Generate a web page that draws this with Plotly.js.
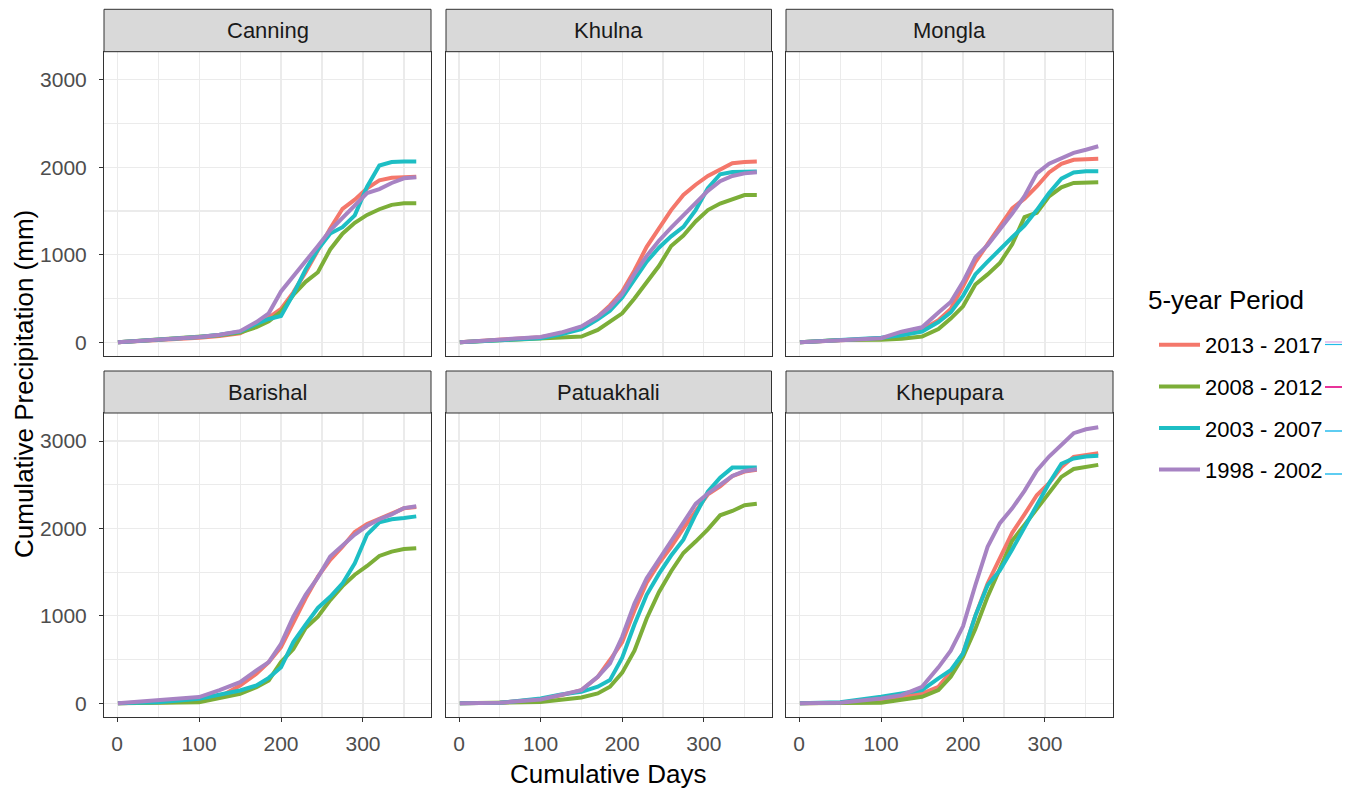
<!DOCTYPE html>
<html>
<head>
<meta charset="utf-8">
<script src="https://cdn.plot.ly/plotly-3.0.1.min.js"></script>
<style>
html,body{margin:0;padding:0;background:#fff;}
#chart{width:1356px;height:790px;}
</style>
</head>
<body>
<div id="chart"></div>
<script>
// ---- data ----
const days = [1, 50, 100, 125, 150, 170, 185, 200, 215, 230, 245, 260, 275, 290, 305, 320, 335, 350, 365];

const stations = ["Canning", "Khulna", "Mongla", "Barishal", "Patuakhali", "Khepupara"];
const periods = ["2013 - 2017", "2008 - 2012", "2003 - 2007", "1998 - 2002"];
const periodColors = ["#F4776B", "#7CAE38", "#1DBEC4", "#A783C3"];

const canning_2013_2017 = [0, 20, 50, 70, 100, 200, 280, 380, 570, 800, 1050, 1300, 1525, 1630, 1760, 1850, 1880, 1890, 1890];
const canning_2008_2012 = [0, 30, 60, 80, 110, 172, 240, 350, 540, 690, 800, 1060, 1240, 1365, 1455, 1520, 1570, 1587, 1587];
const canning_2003_2007 = [0, 25, 60, 85, 120, 210, 265, 300, 550, 830, 1060, 1243, 1315, 1450, 1778, 2020, 2060, 2065, 2065];
const canning_1998_2002 = [0, 25, 60, 85, 126, 230, 330, 580, 750, 930, 1100, 1280, 1425, 1565, 1705, 1750, 1820, 1874, 1885];

const khulna_2013_2017 = [0, 25, 57, 100, 172, 290, 420, 580, 820, 1090, 1310, 1510, 1683, 1800, 1900, 1975, 2045, 2060, 2065];
const khulna_2008_2012 = [0, 20, 40, 55, 65, 140, 230, 330, 500, 680, 870, 1100, 1220, 1380, 1510, 1585, 1630, 1682, 1682];
const khulna_2003_2007 = [0, 20, 45, 90, 150, 260, 360, 510, 710, 920, 1080, 1210, 1319, 1510, 1760, 1920, 1945, 1950, 1950];
const khulna_1998_2002 = [0, 25, 60, 110, 180, 290, 400, 550, 780, 985, 1160, 1310, 1453, 1600, 1730, 1840, 1900, 1930, 1943];

const mongla_2013_2017 = [0, 25, 45, 80, 141, 250, 380, 640, 915, 1120, 1320, 1530, 1640, 1780, 1940, 2040, 2085, 2095, 2096];
const mongla_2008_2012 = [0, 25, 27, 40, 65, 150, 270, 410, 660, 775, 905, 1120, 1430, 1480, 1668, 1770, 1821, 1828, 1828];
const mongla_2003_2007 = [0, 25, 50, 80, 122, 230, 340, 530, 775, 920, 1065, 1200, 1333, 1510, 1706, 1870, 1940, 1954, 1954];
const mongla_1998_2002 = [0, 25, 46, 120, 170, 340, 460, 690, 970, 1110, 1285, 1470, 1670, 1930, 2040, 2100, 2165, 2200, 2240];

const barishal_2013_2017 = [0, 10, 20, 70, 203, 337, 470, 640, 930, 1200, 1450, 1640, 1790, 1960, 2050, 2110, 2180, 2230, 2245];
const barishal_2008_2012 = [0, 5, 11, 60, 107, 184, 260, 470, 620, 860, 990, 1180, 1340, 1470, 1570, 1685, 1735, 1765, 1774];
const barishal_2003_2007 = [0, 10, 50, 100, 146, 203, 290, 410, 700, 900, 1090, 1218, 1370, 1600, 1930, 2070, 2105, 2119, 2138];
const barishal_1998_2002 = [0, 30, 70, 150, 241, 375, 470, 680, 990, 1240, 1440, 1678, 1810, 1930, 2030, 2105, 2160, 2233, 2253];

const patuakhali_2013_2017 = [0, 5, 45, 90, 150, 300, 494, 700, 1060, 1380, 1600, 1790, 2000, 2200, 2390, 2480, 2600, 2650, 2670];
const patuakhali_2008_2012 = [0, 3, 15, 40, 65, 111, 188, 350, 600, 970, 1270, 1510, 1719, 1850, 1990, 2150, 2200, 2265, 2282];
const patuakhali_2003_2007 = [0, 5, 54, 100, 130, 188, 264, 520, 900, 1240, 1480, 1690, 1872, 2160, 2420, 2580, 2696, 2696, 2696];
const patuakhali_1998_2002 = [0, 5, 42, 92, 150, 302, 456, 760, 1140, 1430, 1640, 1840, 2060, 2280, 2400, 2500, 2600, 2657, 2677];

const khepupara_2013_2017 = [0, 5, 40, 80, 111, 187, 360, 570, 1000, 1370, 1650, 1950, 2160, 2380, 2517, 2700, 2820, 2840, 2861];
const khepupara_2008_2012 = [0, 2, 4, 40, 73, 149, 302, 531, 850, 1220, 1530, 1860, 2040, 2220, 2403, 2590, 2680, 2708, 2727];
const khepupara_2003_2007 = [0, 10, 73, 111, 149, 283, 378, 569, 1000, 1350, 1520, 1760, 2020, 2270, 2517, 2740, 2800, 2823, 2831];
const khepupara_1998_2002 = [0, 5, 53, 92, 187, 410, 600, 880, 1350, 1790, 2060, 2230, 2430, 2660, 2823, 2950, 3090, 3135, 3159];

const xTickVals = [0, 100, 200, 300];
const yTickVals = [0, 1000, 2000, 3000];
const xMinorVals = [50, 150, 250, 350];
const yMinorVals = [500, 1500, 2500];

const seriesByStation = [
  [canning_2013_2017, canning_2008_2012, canning_2003_2007, canning_1998_2002],
  [khulna_2013_2017, khulna_2008_2012, khulna_2003_2007, khulna_1998_2002],
  [mongla_2013_2017, mongla_2008_2012, mongla_2003_2007, mongla_1998_2002],
  [barishal_2013_2017, barishal_2008_2012, barishal_2003_2007, barishal_1998_2002],
  [patuakhali_2013_2017, patuakhali_2008_2012, patuakhali_2003_2007, patuakhali_1998_2002],
  [khepupara_2013_2017, khepupara_2008_2012, khepupara_2003_2007, khepupara_1998_2002]
];

// ---- layout geometry (pixels of a 1356x790 page) ----
const W = 1356, H = 790;
const colPx = [[104, 431], [446, 771.5], [786, 1113]];
const rowPx = [[51.7, 356], [413, 717]];       // plot areas
const stripPx = [[9.3, 51.7], [371, 413]];     // facet strips
const px2x = p => p / W;
const px2y = p => 1 - p / H;

const FONT = "Liberation Sans, Arial, Helvetica, sans-serif";
const traces = [];
const layout = {
  width: W, height: H,
  margin: {l: 0, r: 0, t: 0, b: 0},
  paper_bgcolor: "#FFFFFF",
  plot_bgcolor: "#FFFFFF",
  font: {family: FONT, color: "#1A1A1A"},
  showlegend: true,
  legend: {
    x: px2x(1154), y: px2y(324), xanchor: "left", yanchor: "top",
    font: {size: 22, color: "#000000", family: FONT},
    tracegroupgap: 10,
    bgcolor: "rgba(0,0,0,0)",
    itemwidth: 41
  },
  shapes: [],
  annotations: []
};

stations.forEach((name, i) => {
  const r = Math.floor(i / 3), c = i % 3;
  const n = i === 0 ? "" : String(i + 1);
  const xa = "xaxis" + n, ya = "yaxis" + n;
  const bottom = r === 1, left = c === 0;
  layout[xa] = {
    domain: [px2x(colPx[c][0]), px2x(colPx[c][1])],
    anchor: "y" + n,
    range: [-16, 383],
    tickmode: "array", tickvals: xTickVals,
    showticklabels: bottom, ticklabelstandoff: 4,
    ticks: bottom ? "outside" : "", ticklen: 4, tickwidth: 1, tickcolor: "#333333",
    tickfont: {size: 21, color: "#4D4D4D", family: FONT},
    showgrid: true, gridcolor: "#EBEBEB", gridwidth: 1.1,
    minor: {tickmode: "array", tickvals: xMinorVals, showgrid: true, gridcolor: "#EBEBEB", gridwidth: 1.1},
    zeroline: false, showline: true, mirror: true, linecolor: "#333333", linewidth: 1
  };
  layout[ya] = {
    domain: [px2y(rowPx[r][1]), px2y(rowPx[r][0])],
    anchor: "x" + n,
    range: [-158, 3321],
    tickmode: "array", tickvals: yTickVals,
    showticklabels: left, ticklabelstandoff: 8,
    ticks: left ? "outside" : "", ticklen: 4, tickwidth: 1, tickcolor: "#333333",
    tickfont: {size: 21, color: "#4D4D4D", family: FONT},
    showgrid: true, gridcolor: "#EBEBEB", gridwidth: 1.1,
    minor: {tickmode: "array", tickvals: yMinorVals, showgrid: true, gridcolor: "#EBEBEB", gridwidth: 1.1},
    zeroline: false, showline: true, mirror: true, linecolor: "#333333", linewidth: 1
  };
  // strip
  layout.shapes.push({
    type: "rect", xref: "paper", yref: "paper",
    x0: px2x(colPx[c][0]), x1: px2x(colPx[c][1]),
    y0: px2y(stripPx[r][1]), y1: px2y(stripPx[r][0]),
    fillcolor: "#D9D9D9", line: {color: "#333333", width: 1}, layer: "above"
  });
  layout.annotations.push({
    text: name, xref: "paper", yref: "paper",
    x: px2x((colPx[c][0] + colPx[c][1]) / 2), y: px2y((stripPx[r][0] + stripPx[r][1]) / 2),
    xanchor: "center", yanchor: "middle", showarrow: false,
    font: {size: 22, color: "#1A1A1A", family: FONT}
  });
  periods.forEach((p, k) => {
    traces.push({
      type: "scatter", mode: "lines",
      x: days, y: seriesByStation[i][k],
      xaxis: "x" + n, yaxis: "y" + n,
      name: p, legendgroup: p, showlegend: i === 0,
      line: {color: periodColors[k], width: 4},
      hoverinfo: "skip"
    });
  });
});

// axis titles
layout.annotations.push({
  text: "Cumulative Days", xref: "paper", yref: "paper",
  x: px2x(608.5), y: px2y(774), xanchor: "center", yanchor: "middle",
  showarrow: false, font: {size: 26, color: "#000000", family: FONT}
});
layout.annotations.push({
  text: "Cumulative Precipitation (mm)", xref: "paper", yref: "paper",
  x: px2x(24), y: px2y(384), xanchor: "center", yanchor: "middle", textangle: -90,
  showarrow: false, font: {size: 26, color: "#000000", family: FONT}
});
// legend title
layout.annotations.push({
  text: "5-year Period", xref: "paper", yref: "paper",
  x: px2x(1146), y: px2y(300), xanchor: "left", yanchor: "middle",
  showarrow: false, font: {size: 26, color: "#000000", family: FONT}
});

// small stray strokes next to the legend labels seen in the reference
const strayX0 = px2x(1325), strayX1 = px2x(1342);
[[342, "#D9A6E3", 1.2], [344.5, "#22BCE8", 1.2], [387, "#E8339A", 2], [431, "#19B8EC", 1.4], [474, "#19B8EC", 1.4]].forEach(s => {
  layout.shapes.push({type: "line", xref: "paper", yref: "paper", x0: strayX0, x1: strayX1, y0: px2y(s[0]), y1: px2y(s[0]), line: {color: s[1], width: s[2]}});
});

Plotly.newPlot("chart", traces, layout, {displayModeBar: false, staticPlot: true});
</script>
</body>
</html>
